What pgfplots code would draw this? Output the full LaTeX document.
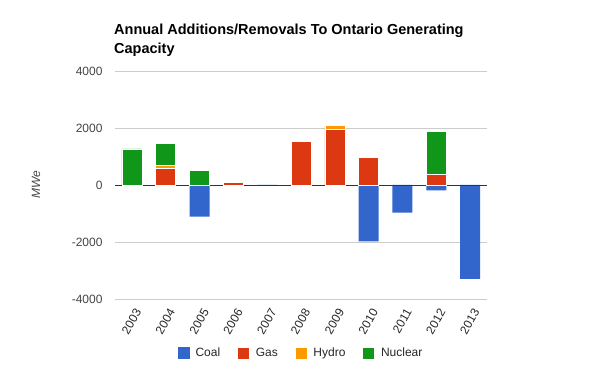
\documentclass[border=0pt]{standalone}
\usepackage{fontspec}
\setmainfont{Liberation Sans}
\usepackage{pgfplots}
\pgfplotsset{compat=1.18}
\definecolor{coal}{HTML}{3366CC}
\definecolor{gas}{HTML}{DC3912}
\definecolor{hydro}{HTML}{FF9900}
\definecolor{nuclear}{HTML}{109618}
\definecolor{gridgray}{HTML}{CCCCCC}
\definecolor{tickgray}{HTML}{444444}
\definecolor{zerogray}{HTML}{333333}
\begin{document}
\begin{tikzpicture}
\path[use as bounding box] (0pt,0pt) rectangle (600pt,371pt);
\pgfplotsset{common/.style={
  at={(115pt,72pt)}, anchor=south west, scale only axis,
  width=372pt, height=228pt,
  xmin=-0.5, xmax=10.5, ymin=-4000, ymax=4000,
  bar width=20pt,
  /pgf/number format/assume math mode=true,
  /pgf/number format/1000 sep={},
}}
\begin{axis}[common, ybar,
  axis line style={draw=none},
  major tick length=0pt,
  ytick={-4000,-2000,0,2000,4000},
  ymajorgrids, grid style={draw=gridgray, line width=0.8pt},
  xtick={0,...,10},
  xticklabels={2003,2004,2005,2006,2007,2008,2009,2010,2011,2012,2013},
  xticklabel style={xshift=8pt, yshift=-8pt, rotate=60, anchor=east, font=\fontsize{12}{14}\selectfont, text=black!85},
  yticklabel style={font=\fontsize{12}{14}\selectfont, text=tickgray, xshift=-9pt},
]
\addplot[fill=coal, draw=none] coordinates {
(0,0) (1,0) (2,-1110) (3,0) (4,0) (5,0) (6,0) (7,-1980) (8,-970) (9,-190) (10,-3290)};
\end{axis}
\begin{axis}[common, ybar stacked, hide axis,
  legend image code/.code={\fill[#1] (0pt,-6pt) rectangle (12pt,6pt);},
  legend style={at={(0.5,-0.237)}, anchor=center, draw=none, fill=none,
    legend columns=4, font=\fontsize{12}{14}\selectfont, text=black!85,
    /tikz/every even column/.append style={column sep=15pt},
    /tikz/every odd column/.append style={column sep=4pt}},
]
\addlegendimage{fill=coal, draw=none}
\addlegendentry{Coal}
\addplot[fill=gas, draw=white, line width=0.6pt] coordinates {
(0,0) (1,590) (2,0) (3,100) (4,0) (5,1530) (6,1950) (7,960) (8,0) (9,370) (10,0)};
\addlegendentry{Gas}
\addplot[fill=hydro, draw=white, line width=0.6pt] coordinates {
(0,0) (1,110) (2,0) (3,0) (4,0) (5,30) (6,130) (7,0) (8,0) (9,0) (10,0)};
\addlegendentry{Hydro}
\addplot[fill=nuclear, draw=white, line width=0.6pt] coordinates {
(0,1270) (1,750) (2,500) (3,0) (4,0) (5,0) (6,0) (7,0) (8,0) (9,1500) (10,0)};
\addlegendentry{Nuclear}
\draw[zerogray, line width=0.9pt] (axis cs:-0.5,0) -- (axis cs:10.5,0);
\end{axis}
\node[anchor=base west, font=\bfseries\fontsize{14.5}{17}\selectfont, inner sep=0pt] at (114pt,336pt) {Annual Additions/Removals To Ontario Generating};
\node[anchor=base west, font=\bfseries\fontsize{14.5}{17}\selectfont, inner sep=0pt] at (114pt,317pt) {Capacity};
\node[rotate=90, font=\itshape\fontsize{12}{14}\selectfont, text=tickgray] at (36pt,186pt) {MWe};
\end{tikzpicture}
\end{document}
